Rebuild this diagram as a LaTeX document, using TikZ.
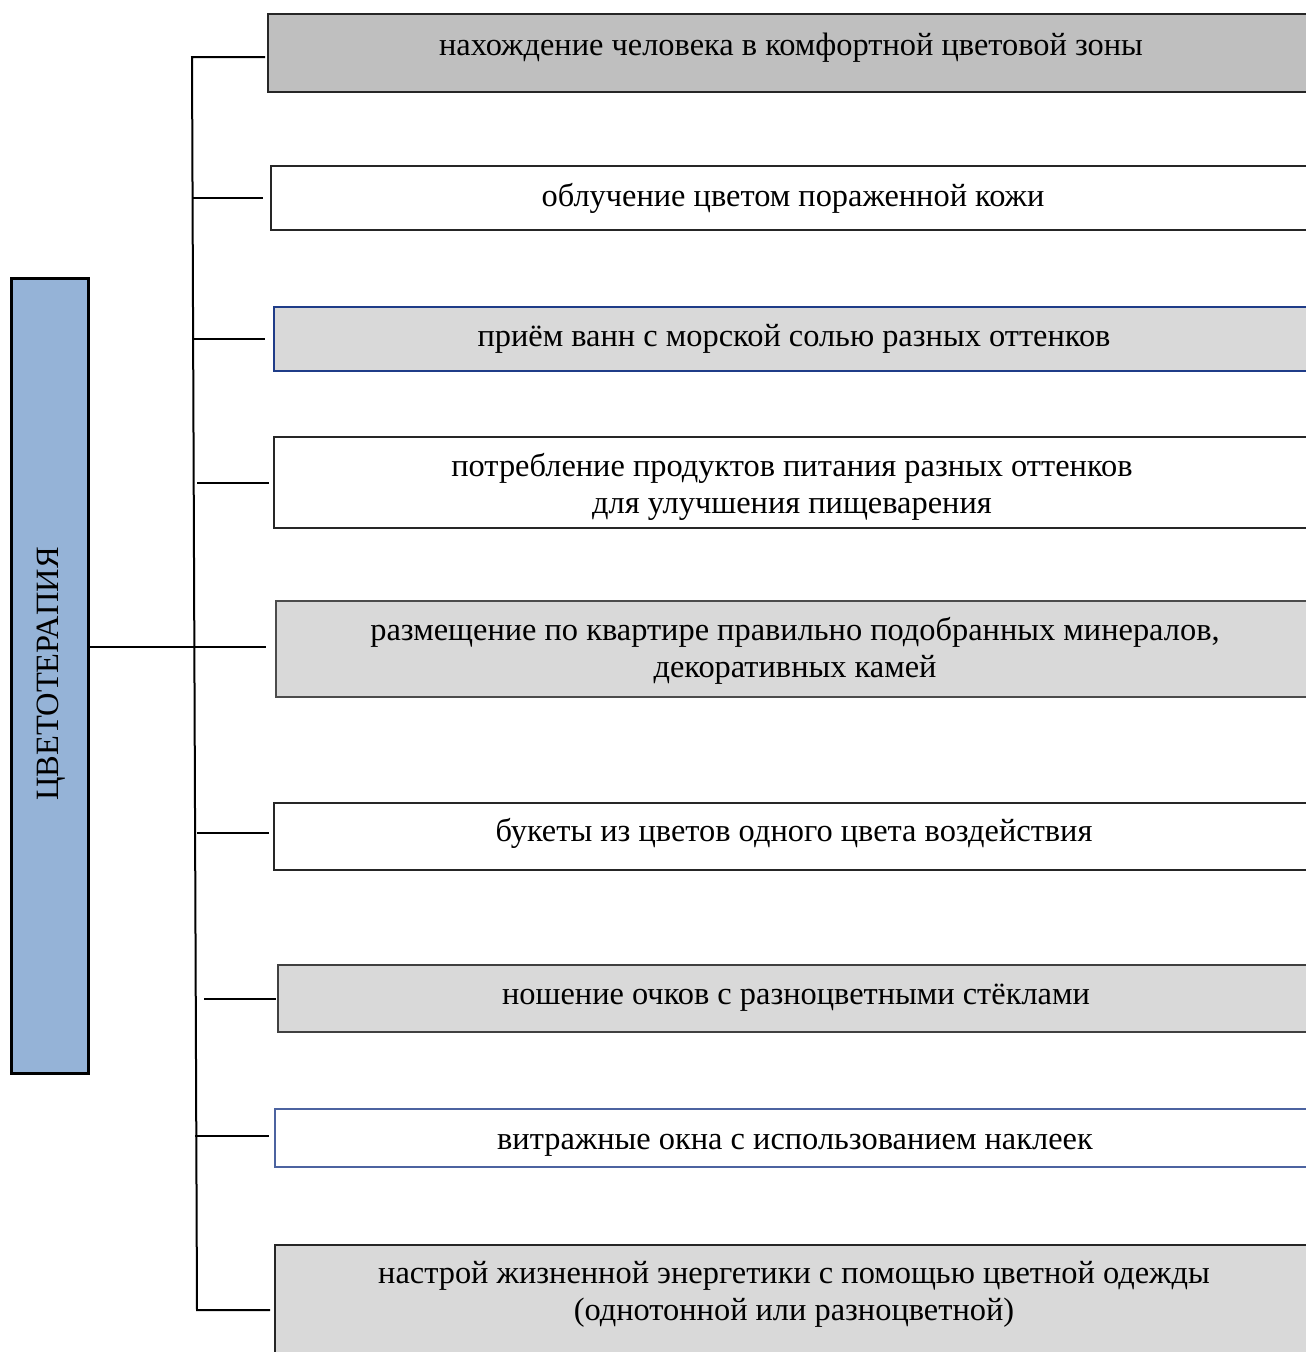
\documentclass[tikz,border=0pt]{standalone}
\usepackage{fontspec}
\setmainfont{Liberation Serif}
\definecolor{darkfill}{HTML}{BFBFBF}
\definecolor{lightfill}{HTML}{D9D9D9}
\definecolor{bluefill}{HTML}{95B3D7}
\definecolor{navy}{HTML}{1F3C88}
\begin{document}
\begin{tikzpicture}[x=1pt,y=-1pt,
  box/.style={draw=black!85,line width=1.3pt,rectangle,inner sep=0pt},
  txt/.style={inner sep=0pt,anchor=base,align=center,font=\fontsize{32.4}{37}\selectfont},
  conn/.style={line width=2pt,black}]
\clip (0,0) rectangle (1306,1352);
\fill[white] (0,0) rectangle (1306,1352);
% left box
\node[draw=black,line width=3pt,fill=bluefill,minimum width=77pt,minimum height=795pt,inner sep=0pt] (main) at (49.5,675.5) {};
\node[rotate=90,font=\fontsize{32.5}{37}\selectfont,inner sep=0pt] (maint) at (51,674) {ЦВЕТОТЕРАПИЯ};
% boxes
\node[box,fill=darkfill,minimum width=1052pt,minimum height=78pt] (b1) at (794,53) {};
\node[box,fill=white,minimum width=1049pt,minimum height=64pt] (b2) at (795.5,198) {};
\node[box,draw=navy,fill=lightfill,minimum width=1046pt,minimum height=64pt] (b3) at (797,339) {};
\node[box,fill=white,minimum width=1046pt,minimum height=91pt] (b4) at (797,482.5) {};
\node[box,draw=black!70,fill=lightfill,minimum width=1044pt,minimum height=96pt] (b5) at (798,649) {};
\node[box,fill=white,minimum width=1046pt,minimum height=67pt] (b6) at (797,836.5) {};
\node[box,draw=black!75,fill=lightfill,minimum width=1042pt,minimum height=67pt] (b7) at (799,998.5) {};
\node[box,draw=navy!80,fill=white,minimum width=1045pt,minimum height=58pt] (b8) at (797.5,1138) {};
\node[box,fill=lightfill,minimum width=1045pt,minimum height=125pt] (b9) at (797.5,1307.5) {};
% texts (base anchor = baseline of last line)
\node[txt] (t1) at (791,55) {нахождение человека в комфортной цветовой зоны};
\node[txt] (t2) at (793,206) {облучение цветом пораженной кожи};
\node[txt] (t3) at (794,346) {приём ванн с морской солью разных оттенков};
\node[txt] (t4) at (792,513) {потребление продуктов питания разных оттенков\\для улучшения пищеварения};
\node[txt] (t5) at (795,677) {размещение по квартире правильно подобранных минералов,\\декоративных камей};
\node[txt] (t6) at (794,841) {букеты из цветов одного цвета воздействия};
\node[txt] (t7) at (796,1004) {ношение очков с разноцветными стёклами};
\node[txt] (t8) at (795,1149) {витражные окна с использованием наклеек};
\node[txt] (t9) at (794,1320) {настрой жизненной энергетики с помощью цветной одежды\\(однотонной или разноцветной)};
% spine
\coordinate (top) at (192,57);
\coordinate (bot) at (197,1310);
\draw[conn] (265,57) -- (top) -- (bot) -- (270,1310);
% branches
\coordinate (s2) at (193,198);
\coordinate (s3) at (193,339);
\coordinate (s4) at (197,483);
\coordinate (s6) at (197,833);
\coordinate (s7) at (204,999);
\coordinate (s8) at (195,1136);
\draw[conn,shorten >=7pt] (s2) -- (s2 -| b2.west);
\draw[conn,shorten >=8pt] (s3) -- (s3 -| b3.west);
\draw[conn,shorten >=4pt] (s4) -- (s4 -| b4.west);
\draw[conn,shorten >=9pt] (main.east |- 0,647) -- (b5.west |- 0,647);
\draw[conn,shorten >=4pt] (s6) -- (s6 -| b6.west);
\draw[conn,shorten >=1pt] (s7) -- (s7 -| b7.west);
\draw[conn,shorten >=5pt] (s8) -- (s8 -| b8.west);
\end{tikzpicture}
\end{document}
